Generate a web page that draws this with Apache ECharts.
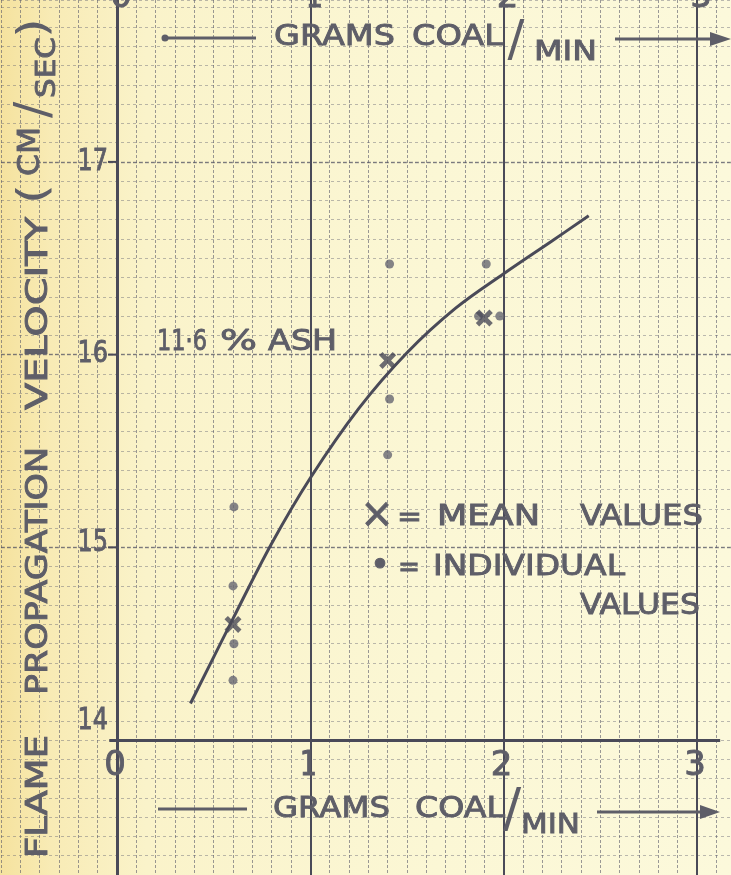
<!DOCTYPE html>
<html><head><meta charset="utf-8">
<style>html,body{margin:0;padding:0;background:#fbf7d3;overflow:hidden}#c{width:731px;height:875px}</style>
<script src="https://cdn.jsdelivr.net/npm/echarts@6/dist/echarts.min.js"></script>
</head><body><div id="c"></div>
<script>
// ---- data ----
const curveX = [0.38, 0.6, 0.8, 1.0, 1.25, 1.5, 1.75, 2.0, 2.25, 2.44];
const curveY = [14.19, 14.63, 15.02, 15.36, 15.72, 16.01, 16.24, 16.42, 16.59, 16.72];
const meanX = [0.60, 1.40, 1.90];
const meanY = [14.60, 15.97, 16.19];
const indivX = [0.605, 0.60, 0.605, 0.60, 1.41, 1.41, 1.40, 1.91, 1.87, 1.98];
const indivY = [15.21, 14.80, 14.50, 14.31, 16.47, 15.77, 15.48, 16.47, 16.20, 16.20];
const xTickValues = [0, 1, 2, 3];
const xTickLabels = ['0', '1', '2', '3'];
const yTickValues = [14, 15, 16, 17];
const yTickLabels = ['14', '15', '16', '17'];
const xTitleWords = ['GRAMS', 'COAL', '/', 'MIN'];
const yTitleWords = ['FLAME', 'PROPAGATION', 'VELOCITY', '(', 'CM', '/', 'SEC', ')'];
const annotationWords = ['11·6', '%', 'ASH'];
const legendMean = ['×', '=', 'MEAN', 'VALUES'];
const legendIndiv = ['•', '=', 'INDIVIDUAL', 'VALUES'];

// ---- styles ----
const INK = '#4a4a58', TXT = '#5e5e68';
const FF = '"DejaVu Sans", "Liberation Sans", sans-serif';
const zip = (a, b) => a.map((v, i) => [v, b[i]]);
const cross = 'path://M2,0 L5,3 L8,0 L10,2 L7,5 L10,8 L8,10 L5,7 L2,10 L0,8 L3,5 L0,2 Z';

const chart = echarts.init(document.getElementById('c'), null, {renderer: 'canvas'});
const axisCommon = (color, dash) => ({
  type: 'value', interval: 0.1,
  axisLine: {show: false}, axisTick: {show: false}, axisLabel: {show: false},
  splitLine: {show: true, lineStyle: {color: color, width: 1, type: dash}}
});
const intStyleV = (w) => ({color: INK, width: w, type: 'solid'});
const hStyle = {color: 'rgba(80,80,96,0.6)', width: 1.3, type: [4, 2]};

const option = {
  animation: false,
  backgroundColor: {type: 'linear', x: 0, y: 0, x2: 1, y2: 0, colorStops: [
    {offset: 0, color: '#f5e29e'}, {offset: 0.07, color: '#f8ebb5'},
    {offset: 0.2, color: '#faf3ca'}, {offset: 0.6, color: '#fbf7d5'}, {offset: 1, color: '#fcf9db'}]},
  grid: {left: 1, right: 0, top: 0, bottom: -1, containLabel: false},
  xAxis: Object.assign({min: -0.6, max: 3.176}, axisCommon('rgba(88,88,105,0.6)', [3, 2])),
  yAxis: Object.assign({min: 13.3, max: 17.84}, axisCommon('rgba(95,95,112,0.42)', [3, 3])),
  series: [
    {type: 'line', name: 'curve', data: zip(curveX, curveY), smooth: 0.35, symbol: 'none',
     lineStyle: {color: INK, width: 3}, z: 5, silent: true,
     markLine: {silent: true, symbol: ['none', 'none'], label: {show: false}, animation: false,
       emphasis: {disabled: true},
       data: [
         {xAxis: 0, lineStyle: intStyleV(3)},
         {xAxis: 1, lineStyle: intStyleV(2)},
         {xAxis: 2, lineStyle: intStyleV(2)},
         {xAxis: 3, lineStyle: intStyleV(2)},
         {yAxis: 15, lineStyle: hStyle},
         {yAxis: 16, lineStyle: hStyle},
         {yAxis: 17, lineStyle: hStyle},
         [{coord: [-0.04, 14], lineStyle: {color: INK, width: 3, type: 'solid'}}, {coord: [3.12, 14]}]
       ]}},
    {type: 'scatter', name: 'individual values', data: zip(indivX, indivY), symbol: 'circle', symbolSize: 9,
     itemStyle: {color: '#666672'}, z: 6, silent: true},
    {type: 'scatter', name: 'mean values', data: zip(meanX, meanY), symbol: cross, symbolSize: 17,
     itemStyle: {color: INK}, z: 7, silent: true}
  ]
};
chart.setOption(option);

// ---- text helpers ----
const mctx = document.createElement('canvas').getContext('2d');
function tw(text, size) { mctx.font = size + 'px ' + FF; return mctx.measureText(text).width; }
function T(text, x, y, size, o) {
  o = o || {};
  const w = tw(text, size);
  const sx = o.w ? o.w / w : (o.sx || 1);
  const al = o.align || 'center';
  const fill = o.fill || TXT;
  return {type: 'text', x: x, y: y, rotation: o.rot || 0, scaleX: sx, z: 20, silent: true,
    style: {text: text, x: 0, y: 0, font: size + 'px ' + FF, fill: fill,
      stroke: o.noStroke ? null : fill, lineWidth: o.noStroke ? 0 : 0.9,
      textAlign: al, textVerticalAlign: 'middle', align: al, verticalAlign: 'middle'}};
}
function F(text, x0, x1, yc, size) { return T(text, (x0 + x1) / 2, yc, size, {w: x1 - x0}); }
function V(text, yb, yt, xc, size) { return T(text, xc, (yb + yt) / 2, size, {w: yb - yt, rot: Math.PI / 2}); }

const px = (x, y) => chart.convertToPixel({gridIndex: 0}, [x, y]);
const g = [];
xTickValues.forEach((v, i) => {
  const p = px(v, 14);
  g.push(T(xTickLabels[i], p[0] - 2, p[1] + 26, 34, {sx: v === 1 ? 0.8 : 1}));
  g.push(T(xTickLabels[i], p[0] + 4, -2, 34, {sx: v === 1 ? 0.8 : 1}));
});
yTickValues.forEach((v, i) => {
  const p = px(0, v);
  g.push(T(yTickLabels[i], p[0] - 9, p[1] + (v === 14 ? -19 : (v === 15 ? -4 : 0)), 30, {align: 'right', sx: 0.8}));
  if (v !== 14) g.push({type: 'line', z: 20, silent: true, shape: {x1: p[0] - 9, y1: p[1], x2: p[0], y2: p[1]}, style: {stroke: INK, lineWidth: 2}});
});
g.push(F(xTitleWords[0], 273, 390, 809, 29), F(xTitleWords[1], 415, 505, 809, 29),
       T(xTitleWords[2], 512, 812, 54, {noStroke: true}), F(xTitleWords[3], 521, 580, 826, 27));
g.push(F(xTitleWords[0], 274, 395, 37, 29), F(xTitleWords[1], 412, 503, 37, 29),
       T(xTitleWords[2], 516, 42, 50, {noStroke: true}), F(xTitleWords[3], 534, 597, 53, 27));
g.push({type: 'line', z: 20, silent: true, shape: {x1: 158, y1: 809, x2: 247, y2: 809}, style: {stroke: TXT, lineWidth: 3}});
g.push({type: 'line', z: 20, silent: true, shape: {x1: 597, y1: 812, x2: 705, y2: 812}, style: {stroke: TXT, lineWidth: 3}});
g.push({type: 'polygon', z: 20, silent: true, shape: {points: [[700, 805], [720, 812], [700, 819]]}, style: {fill: TXT}});
g.push({type: 'line', z: 20, silent: true, shape: {x1: 165, y1: 38, x2: 256, y2: 38}, style: {stroke: TXT, lineWidth: 3}});
g.push({type: 'circle', z: 20, silent: true, shape: {cx: 165, cy: 38, r: 3.5}, style: {fill: TXT}});
g.push({type: 'line', z: 20, silent: true, shape: {x1: 615, y1: 39, x2: 716, y2: 39}, style: {stroke: TXT, lineWidth: 3}});
g.push({type: 'polygon', z: 20, silent: true, shape: {points: [[710, 32], [731, 39], [710, 46]]}, style: {fill: TXT}});
g.push(V(yTitleWords[0], 858, 735, 39, 30), V(yTitleWords[1], 695, 447, 39, 30), V(yTitleWords[2], 410, 217, 39, 30),
       T(yTitleWords[3], 36, 194, 40, {rot: Math.PI / 2, sx: 1.3, noStroke: true}),
       V(yTitleWords[4], 176, 127, 31, 31),
       T(yTitleWords[5], 36, 110, 48, {rot: Math.PI / 2, noStroke: true}),
       V(yTitleWords[6], 98, 37, 48, 26),
       T(yTitleWords[7], 36, 28, 40, {rot: Math.PI / 2, sx: 1.3, noStroke: true}));
g.push(F(annotationWords[0], 157, 207, 342, 29), F(annotationWords[1], 220, 257, 342, 29), F(annotationWords[2], 268, 337, 342, 29));
g.push(T(legendMean[0], 377, 517, 40), F(legendMean[1], 397, 422, 518, 29), F(legendMean[2], 437, 540, 518, 28), F(legendMean[3], 580, 703, 518, 28));
g.push(T(legendIndiv[0], 380, 567, 34), F(legendIndiv[1], 398, 420, 568, 29), F(legendIndiv[2], 433, 625, 568, 28), F(legendIndiv[3], 580, 700, 607, 28));

chart.setOption({graphic: g});
</script>
</body></html>
